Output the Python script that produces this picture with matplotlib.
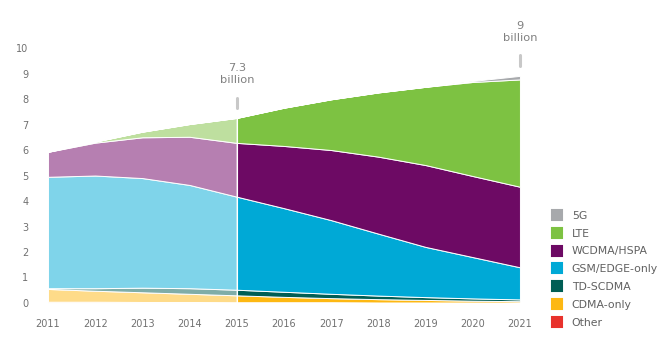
import matplotlib.pyplot as plt
from matplotlib.lines import Line2D
import numpy as np

# yillar ve katman degerleri (milyar baglanti)
years = [2011, 2012, 2013, 2014, 2015, 2016, 2017, 2018, 2019, 2020, 2021]
other = [0.05, 0.05, 0.04, 0.04, 0.03, 0.03, 0.03, 0.02, 0.02, 0.02, 0.02]
cdma = [0.50, 0.43, 0.38, 0.32, 0.27, 0.21, 0.16, 0.13, 0.10, 0.07, 0.05]
td_scdma = [0.03, 0.10, 0.18, 0.22, 0.22, 0.20, 0.17, 0.14, 0.11, 0.09, 0.07]
gsm = [4.37, 4.42, 4.30, 4.05, 3.65, 3.28, 2.89, 2.43, 1.97, 1.62, 1.26]
wcdma = [0.98, 1.29, 1.60, 1.89, 2.11, 2.44, 2.75, 3.02, 3.21, 3.18, 3.16]
lte = [0.00, 0.04, 0.22, 0.50, 0.98, 1.50, 1.99, 2.52, 3.07, 3.69, 4.21]
fiveg = [0, 0, 0, 0, 0, 0, 0, 0, 0, 0.04, 0.14]

labels = ['Other', 'CDMA-only', 'TD-SCDMA', 'GSM/EDGE-only', 'WCDMA/HSPA', 'LTE', '5G']
colors = ['#e8322c', '#fdb813', '#005e55', '#00a9d6', '#6d0a64', '#7dc242', '#a7a9ac']
light = ['#f9d6d5', '#fedb89', '#7fada8', '#7fd4ea', '#b67fb1', '#bedf9f', '#d3d4d5']

callouts = [(2015, '7.3\nbillion'), (2021, '9\nbillion')]

layers = [other, cdma, td_scdma, gsm, wcdma, lte, fiveg]
x = np.array(years)
split = years.index(2015)

fig = plt.figure(figsize=(6.69, 3.5), dpi=100)
ax = fig.add_axes([0.0717, 0.1234, 0.7055, 0.7757])

# gecmis (soluk) ve tahmin (koyu) bolumleri
ax.stackplot(x[:split + 1], *[np.array(l)[:split + 1] for l in layers],
             colors=light, edgecolor='white', linewidth=0.7)
ax.stackplot(x[split:], *[np.array(l)[split:] for l in layers],
             colors=colors, edgecolor='white', linewidth=0.7)
ax.axvline(2015, color='white', lw=0.8)

tops = np.sum(layers, axis=0)
for yr, txt in callouts:
    top = tops[years.index(yr)]
    ax.text(yr, top + 1.3, txt, ha='center', va='bottom', fontsize=8.2,
            color='#808080', linespacing=1.2, clip_on=False)
    ax.plot([yr, yr], [top + 0.38, top + 0.8], color='#c8c8c8', lw=2.2,
            solid_capstyle='round', clip_on=False)

ax.set_xlim(2011, 2021)
ax.set_ylim(-0.15, 10.5)
ax.set_xticks(years)
ax.set_yticks(range(0, 11))
ax.tick_params(length=0, labelsize=7, labelcolor='#707070')
ax.tick_params(axis='x', pad=9)
ax.tick_params(axis='y', pad=14)
for s in ax.spines.values():
    s.set_visible(False)

handles = [Line2D([], [], marker='s', ls='', markersize=7.5, markerfacecolor=c,
                  markeredgecolor=c, markeredgewidth=1.5) for c in colors[::-1]]
fig.legend(handles, labels[::-1], loc='upper left', bbox_to_anchor=(0.815, 0.413),
           frameon=False, fontsize=7.8, labelcolor='#606060',
           labelspacing=0.72, handletextpad=0.75, handlelength=1.2,
           borderpad=0)

fig.savefig('out.png', dpi=100)
